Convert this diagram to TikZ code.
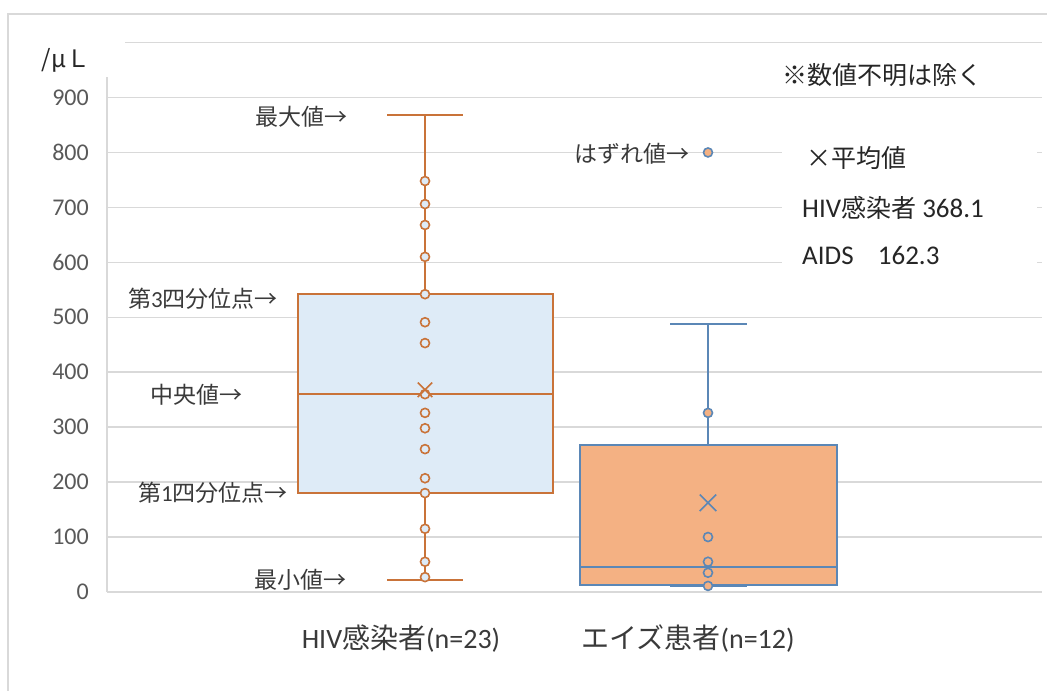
\documentclass[tikz,border=0pt]{standalone}
\usepackage{fontspec}
\setmainfont{Carlito}
\newfontfamily\jp{Noto Sans CJK JP}
\usepackage{xcolor}
\usepackage{tikz}
\usetikzlibrary{shapes.misc, positioning}

\definecolor{gridgray}{HTML}{D9D9D9}
\definecolor{ticktext}{HTML}{595959}
\definecolor{labtext}{HTML}{3A3A3A}
\definecolor{legtext}{HTML}{262626}
\definecolor{hivline}{HTML}{C97339}
\definecolor{hivfill}{HTML}{DEEBF7}
\definecolor{aidsline}{HTML}{5B87B6}
\definecolor{aidsfill}{HTML}{F4B183}

\begin{document}
\begin{tikzpicture}[x=1pt, y=0.5494pt,
  grid/.style={gridgray, line width=1.5pt},
  tick/.style={anchor=east, inner sep=0pt, text=ticktext, font=\fontsize{24}{24}\selectfont},
  note/.style={anchor=east, inner sep=0pt, text=labtext, font=\jp\fontsize{23}{23}\selectfont},
  legend/.style={anchor=west, inner sep=0pt, text=legtext, font=\fontsize{27}{27}\selectfont},
  catlab/.style={inner sep=0pt, text=labtext, font=\fontsize{28}{28}\selectfont},
  hivpt/.style={circle, draw=hivline, fill=hivfill, line width=1.6pt, minimum size=9pt, inner sep=0pt},
  aidspt/.style={circle, draw=aidsline, fill=aidsfill, line width=1.6pt, minimum size=9pt, inner sep=0pt},
  mean/.style={cross out, draw, line width=1.5pt, minimum size=13pt, inner sep=0pt}]
  \useasboundingbox (0,-180.2) rectangle (1047,1077.5);

  % frame and grid
  \draw[gridgray, line width=1.2pt] (8,-180.2) -- (8,1052) -- (1047,1052);
  \foreach \v in {0,100,...,900}
    \draw[grid] (107,\v) -- (1042,\v);
  \draw[grid] (125,1000) -- (1042,1000);
  \draw[grid] (107,0) -- (107,937);
  \foreach \v in {0,100,...,900}
    \node[tick] (t\v) at (89,\v) {\v};
  \node[inner sep=0pt, text=legtext, font=\jp\fontsize{24}{24}\selectfont] (unit) at (66,968) {/μＬ};

  % HIV box
  \draw[hivline, line width=2pt] (425,542) -- (425,868);
  \draw[hivline, line width=2pt] (425,180) -- (425,22);
  \draw[hivline, line width=2pt] (387,868) -- (463,868);
  \draw[hivline, line width=2pt] (387,22) -- (463,22);
  \draw[hivline, fill=hivfill, line width=2pt] (298,180) rectangle (553,542);
  \draw[hivline, line width=2pt] (298,360) -- (553,360);
  \foreach \v in {748,706,668,610,542,491,453,360,326,298,260,207,180,115,55,27}
    \node[hivpt] at (425,\v) {};
  \node[mean, hivline] (hivmean) at (425,368) {};

  % AIDS box
  \draw[aidsline, line width=2pt] (708,268) -- (708,488);
  \draw[aidsline, line width=2pt] (670,488) -- (747,488);
  \draw[aidsline, line width=2pt] (670,11) -- (747,11);
  \draw[aidsline, fill=aidsfill, line width=2pt] (580,13) rectangle (837,268);
  \draw[aidsline, line width=2pt] (580,46) -- (837,46);
  \foreach \v in {326,100,55,35,11,800}
    \node[aidspt] at (708,\v) {};
  \node[mean, aidsline, minimum size=15pt] (aidsmean) at (708,162.3) {};

  % labels
  \node[note] (maxlab) at (348,865) {最大値→};
  \node[note] (q3lab) at (278,533) {第{\rmfamily 3}四分位点→};
  \node[note] (medlab) at (243,359) {中央値→};
  \node[note] (q1lab) at (288,180) {第{\rmfamily 1}四分位点→};
  \node[note] (minlab) at (347,22) {最小値→};
  \node[note] (outlab) at (690,797) {はずれ値→};

  % legend
  \fill[white] (782,577) rectangle (1037,832);
  \node[legend, font=\jp\fontsize{25}{25}\selectfont] (remark) at (782,941) {※数値不明は除く};
  \node[legend, font=\jp\fontsize{25}{25}\selectfont] (meanlab) at (806,790) {×平均値};
  \node[legend] (hivval) at (802,699) {HIV{\jp\fontsize{25}{25}\selectfont 感染者} 368.1};
  \node[legend] (aidsval) at (802,613) {AIDS\hspace{0.9em}162.3};

  \node[catlab] (hivcat) at (401,-84) {HIV{\jp 感染者}(n=23)};
  \node[catlab] (aidscat) at (688,-84) {{\jp エイズ患者}(n=12)};
\end{tikzpicture}
\end{document}
